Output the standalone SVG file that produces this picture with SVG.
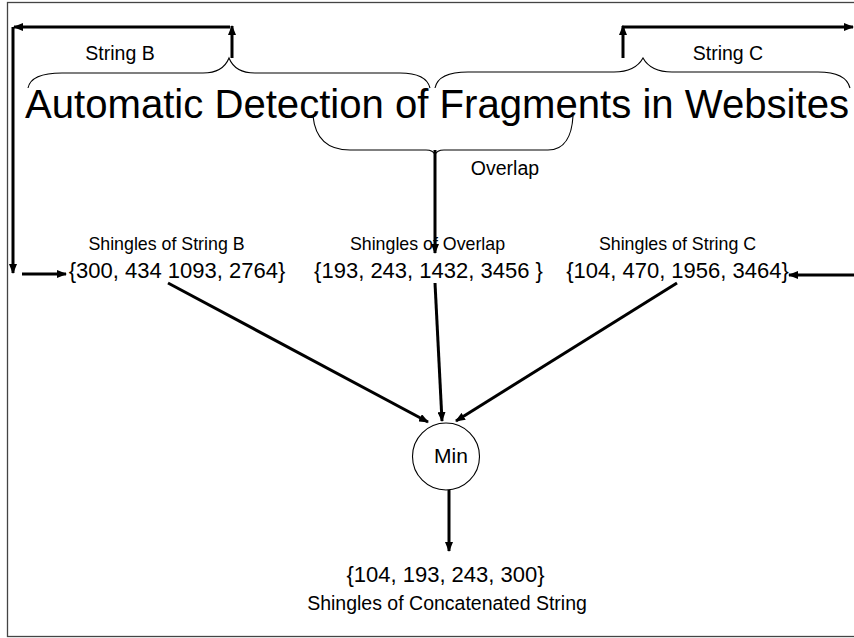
<svg xmlns="http://www.w3.org/2000/svg" width="854" height="638" viewBox="0 0 854 638">
  <style>
    text { font-family: "Liberation Sans", Arial, Helvetica, sans-serif; fill: #000; }
    .title { font-size: 40px; }
    .lbl { font-size: 19.5px; text-anchor: middle; }
    .sh { font-size: 17.8px; text-anchor: middle; }
    .num { font-size: 22px; text-anchor: middle; }
    .brace { fill: none; stroke: #000; stroke-width: 1.1; }
    .arr { fill: none; stroke: #000; stroke-width: 3; marker-end: url(#head); }
    .line { fill: none; stroke: #000; stroke-width: 3; }
  </style>
  <defs>
    <marker id="head" markerUnits="userSpaceOnUse" markerWidth="10" markerHeight="8" refX="9" refY="4" orient="auto">
      <path d="M0,0 L10,4 L0,8 z" fill="#000"/>
    </marker>
  </defs>

  <rect width="854" height="638" fill="#fff"/>
  <!-- frame -->
  <rect x="7.5" y="2.5" width="860" height="634" fill="none" stroke="#444" stroke-width="1.3"/>

  <g id="title">
    <text class="title" x="25" y="118" textLength="824" lengthAdjust="spacingAndGlyphs">Automatic Detection of Fragments in Websites</text>
  </g>

  <g id="string-b">
    <path class="brace" d="M28,88 C30,78 40,73 62,73 L203,73 C217,73 225,68 229,58 C233,68 241,73 255,73 L400,73 C420,73 428,80 430,88"/>
    <text class="lbl" x="120" y="60">String B</text>
  </g>

  <g id="string-c">
    <path class="brace" d="M435,88 C437,78 447,72 468,72 L614,72 C630,72 638,67 643,58 C648,67 656,72 672,72 L818,72 C840,72 848,80 850,88"/>
    <text class="lbl" x="728" y="60">String C</text>
  </g>

  <g id="overlap">
    <path class="brace" d="M313,116 C315,136 325,150 350,150 L426,150 C431,150 434,152 435,155 C436,152 439,150 444,150 L548,150 C565,150 572,135 573,116"/>
    <text class="lbl" x="505" y="175">Overlap</text>
  </g>

  <g id="shingles-b">
    <text class="sh" x="166.5" y="250">Shingles of String B</text>
    <text class="num" x="177" y="278">{300, 434 1093, 2764}</text>
  </g>

  <g id="shingles-overlap">
    <text class="sh" x="427.5" y="250">Shingles of Overlap</text>
    <text class="num" x="428.5" y="278">{193, 243, 1432, 3456 }</text>
  </g>

  <g id="shingles-c">
    <text class="sh" x="677.5" y="250">Shingles of String C</text>
    <text class="num" x="677.5" y="278">{104, 470, 1956, 3464}</text>
  </g>

  <g id="min">
    <circle cx="446" cy="456.5" r="33.5" fill="#fff" stroke="#000" stroke-width="1.1"/>
    <text x="451" y="463" font-size="21" text-anchor="middle">Min</text>
  </g>

  <g id="result">
    <text class="num" x="445.5" y="582">{104, 193, 243, 300}</text>
    <text x="447" y="610" font-size="19.5" text-anchor="middle">Shingles of Concatenated String</text>
  </g>

  <g id="connectors">
    <!-- string B routed round the left edge -->
    <path class="arr" d="M232,58 L232,26"/>
    <path class="arr" d="M230,27 L14,27"/>
    <path class="arr" d="M13,27 L13,273"/>
    <path class="arr" d="M22,274 L66,274"/>
    <!-- string C routed round the right edge -->
    <path class="arr" d="M623,58 L623,26"/>
    <path class="arr" d="M622,27 L853,27"/>
    <path class="arr" d="M858,27 L858,273"/>
    <path class="arr" d="M870,275 L789,275"/>
    <!-- overlap down to its shingles -->
    <path class="arr" d="M435,150 L435,253"/>
    <!-- shingle sets into Min -->
    <path class="arr" d="M168,283 L428,422"/>
    <path class="arr" d="M435,283 L442,421"/>
    <path class="arr" d="M677,283 L456,421"/>
    <!-- Min to result -->
    <path class="arr" d="M449,490 L449,551"/>
  </g>
</svg>
